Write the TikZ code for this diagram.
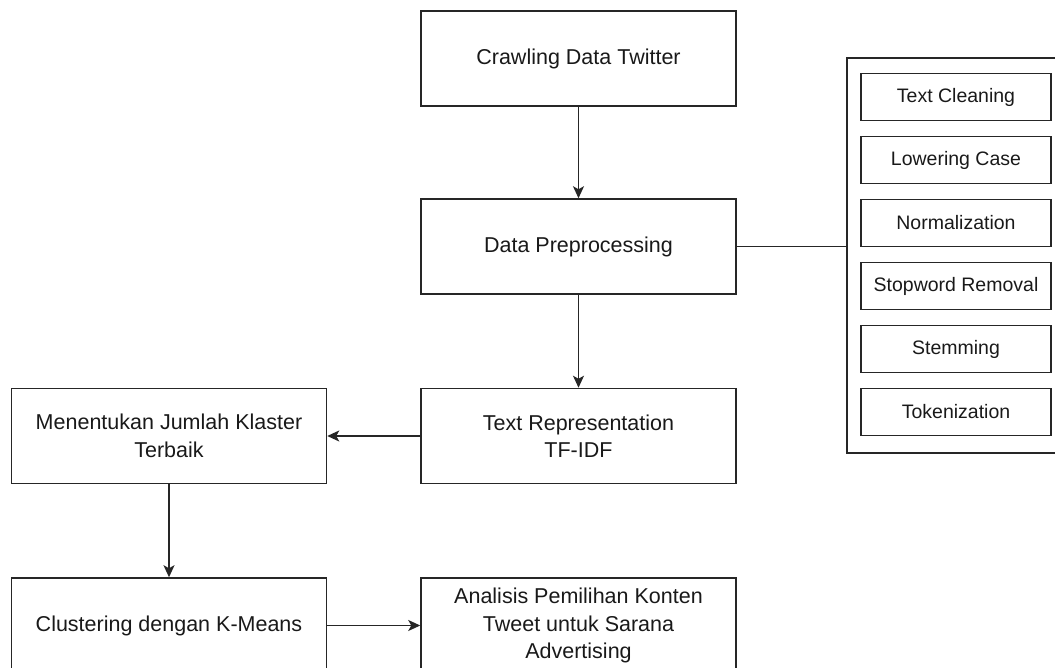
\documentclass[tikz,border=0pt]{standalone}
\usepackage{fontspec}
\setmainfont{Liberation Sans}
\usetikzlibrary{arrows.meta}
\begin{document}
\begin{tikzpicture}[x=1pt,y=-1pt,
  box/.style={draw=black!85, line width=1.5pt, minimum width=315pt, minimum height=95pt, inner sep=0pt, align=center, text=black!90, font=\fontsize{21.5}{27.5}\selectfont},
  sbox/.style={draw=black!85, line width=1.5pt, minimum width=190pt, minimum height=47pt, inner sep=0pt, text=black!90, font=\fontsize{19.5}{24}\selectfont},
  grpbox/.style={draw=black!85, line width=1.5pt, minimum width=220pt, minimum height=394.5pt, inner sep=0pt, anchor=north west},
  arr/.style={draw=black!85, line width=1.5pt, -{Stealth[length=12pt,width=11pt,inset=3pt]}},
  conn/.style={draw=black!85, line width=1.5pt}]
\useasboundingbox (0,0) rectangle (1055,668);
\clip (0,0) rectangle (1055,668);
\node[box] (crawl) at (578.5,58.5) {Crawling Data Twitter};
\node[box] (prep) at (578.5,246.5) {Data Preprocessing};
\node[box] (rep) at (578.5,436) {Text Representation\\TF-IDF};
\node[box] (best) at (169,436) {Menentukan Jumlah Klaster\\Terbaik};
\node[box] (km) at (169,625.5) {Clustering dengan K-Means};
\node[box] (ana) at (578.5,625.5) {Analisis Pemilihan Konten\\Tweet untuk Sarana\\Advertising};
\node[grpbox] (grp) at (846,57.5) {};
\node[sbox] (s1) at (956,97) {Text Cleaning};
\node[sbox] (s2) at (956,160) {Lowering Case};
\node[sbox] (s3) at (956,223) {Normalization};
\node[sbox] (s4) at (956,286) {Stopword Removal};
\node[sbox] (s5) at (956,349) {Stemming};
\node[sbox] (s6) at (956,412) {Tokenization};
\draw[arr] (crawl) -- (prep);
\draw[arr] (prep) -- (rep);
\draw[conn] (prep.east) -- (prep.east -| grp.west);
\draw[arr] (rep) -- (best);
\draw[arr] (best) -- (km);
\draw[arr] (km) -- (ana);
\end{tikzpicture}
\end{document}
